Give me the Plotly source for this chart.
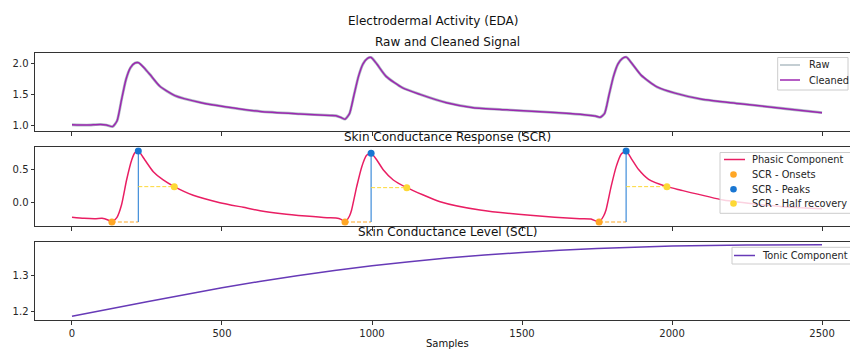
import plotly.graph_objects as go

H = 349.0
W = 850.0

# ---------------- data ----------------
clean_x = [0, 50, 95, 115, 135, 150, 165, 180, 195, 210, 222, 240, 260, 293, 343, 427, 510, 627, 760, 860, 880, 895, 910,
           925, 940, 955, 970, 985, 997, 1016, 1047, 1102, 1160, 1248, 1337, 1450, 1560, 1660, 1720, 1745, 1760,
           1775, 1790, 1805, 1820, 1835, 1848, 1866, 1897, 1950, 2010, 2100, 2227, 2393, 2500]
clean_y = [1.02, 1.015, 1.025, 1.015, 0.99, 1.08, 1.42, 1.75, 1.94, 2.015, 2.02, 1.94, 1.83, 1.64, 1.49, 1.38, 1.31, 1.235, 1.195, 1.17, 1.165, 1.14, 1.11,
           1.2, 1.5, 1.8, 2.0, 2.09, 2.105, 2.0, 1.80, 1.615, 1.51, 1.375, 1.295, 1.26, 1.23, 1.2, 1.175, 1.16, 1.14,
           1.2, 1.5, 1.8, 2.0, 2.09, 2.11, 2.01, 1.82, 1.63, 1.53, 1.43, 1.36, 1.27, 1.215]
raw_x = clean_x
raw_y = clean_y

phasic_x = [0, 40, 80, 100, 120, 133, 150, 165, 182, 199, 210, 221, 243, 271, 304, 341, 404, 493, 571, 627, 700, 780, 850, 880, 897, 910,
            925, 932, 949, 966, 982, 997, 1016, 1038, 1071, 1116, 1227, 1360, 1527, 1693, 1730, 1757,
            1772, 1780, 1797, 1814, 1831, 1847, 1866, 1888, 1922, 1983, 2027, 2171, 2300, 2400, 2500]
phasic_y = [-0.22, -0.235, -0.24, -0.235, -0.26, -0.29, -0.22, -0.035, 0.34, 0.64, 0.75, 0.775, 0.64, 0.464, 0.34, 0.24, 0.11, 0.0, -0.07, -0.12, -0.165, -0.2, -0.225, -0.23, -0.25, -0.29,
            -0.2, -0.11, 0.24, 0.54, 0.71, 0.74, 0.64, 0.49, 0.34, 0.225, 0.015, -0.11, -0.19, -0.24, -0.245, -0.29,
            -0.2, -0.11, 0.24, 0.54, 0.73, 0.775, 0.65, 0.5, 0.35, 0.24, 0.19, 0.04, -0.03, -0.07, -0.09]

onset_x = [133, 910, 1757]
onset_y = [-0.29, -0.29, -0.29]
peak_x = [221, 997, 1847]
peak_y = [0.775, 0.74, 0.775]
half_x = [341, 1116, 1983]
half_y = [0.24, 0.225, 0.24]

tonic_x = [0, 250, 500, 750, 1000, 1250, 1500, 1750, 2000, 2250, 2500]
tonic_y = [1.185, 1.226, 1.266, 1.300, 1.328, 1.350, 1.366, 1.377, 1.384, 1.387, 1.388]

xticks = [0, 500, 1000, 1500, 2000, 2500]

C_RAW, C_CLEAN, C_PHASIC = "#B0BEC5", "#9C27B0", "#E91E63"
C_ON, C_PEAK, C_HALF, C_TONIC = "#FFA726", "#1976D2", "#FDD835", "#673AB7"

# ---------------- geometry helpers ----------------
def py(p):
    return (H - p) / H

def px(p):
    return p / W

FONT = "DejaVu Sans"
TXT = "#262626"
SPINE = "#333333"

fig = go.Figure()

# top panel
fig.add_trace(go.Scatter(x=raw_x, y=raw_y, mode="lines", name="Raw", line=dict(color=C_RAW, width=2.8, shape="spline", smoothing=0.6),
                         xaxis="x", yaxis="y", showlegend=False))
fig.add_trace(go.Scatter(x=clean_x, y=clean_y, mode="lines", name="Cleaned", line=dict(color=C_CLEAN, width=1.5, shape="spline", smoothing=0.6),
                         xaxis="x", yaxis="y", showlegend=False))

# middle panel
fig.add_trace(go.Scatter(x=phasic_x, y=phasic_y, mode="lines", name="Phasic Component",
                         line=dict(color=C_PHASIC, width=1.5, shape="spline", smoothing=0.6),
                         xaxis="x2", yaxis="y2", showlegend=False))

rx, ry, ax_, ay_, hx, hy = [], [], [], [], [], []
for i in range(len(onset_x)):
    rx += [onset_x[i], peak_x[i], None]
    ry += [onset_y[i], onset_y[i], None]
    ax_ += [peak_x[i], peak_x[i], None]
    ay_ += [onset_y[i], peak_y[i], None]
    hx += [peak_x[i], half_x[i], None]
    hy += [half_y[i], half_y[i], None]
fig.add_trace(go.Scatter(x=rx, y=ry, mode="lines", line=dict(color=C_ON, width=1, dash="4px,2px"), showlegend=False,
                         xaxis="x2", yaxis="y2", hoverinfo="skip"))
fig.add_trace(go.Scatter(x=ax_, y=ay_, mode="lines", line=dict(color=C_PEAK, width=1), showlegend=False,
                         xaxis="x2", yaxis="y2", hoverinfo="skip"))
fig.add_trace(go.Scatter(x=hx, y=hy, mode="lines", line=dict(color=C_HALF, width=1, dash="4px,2px"), showlegend=False,
                         xaxis="x2", yaxis="y2", hoverinfo="skip"))

fig.add_trace(go.Scatter(x=onset_x, y=onset_y, mode="markers", name="SCR - Onsets", marker=dict(color=C_ON, size=7),
                         xaxis="x2", yaxis="y2", showlegend=False))
fig.add_trace(go.Scatter(x=peak_x, y=peak_y, mode="markers", name="SCR - Peaks", marker=dict(color=C_PEAK, size=7),
                         xaxis="x2", yaxis="y2", showlegend=False))
fig.add_trace(go.Scatter(x=half_x, y=half_y, mode="markers", name="SCR - Half recovery", marker=dict(color=C_HALF, size=7),
                         xaxis="x2", yaxis="y2", showlegend=False))

# bottom panel
fig.add_trace(go.Scatter(x=tonic_x, y=tonic_y, mode="lines", name="Tonic Component",
                         line=dict(color=C_TONIC, width=1.5, shape="spline", smoothing=0.6),
                         xaxis="x3", yaxis="y3", showlegend=False))

xrange = [-123.3, 2593.3]
xdom = [35 / W, 1.0]

def xax(anchor, labels):
    return dict(domain=xdom, range=xrange, anchor=anchor, tickvals=xticks, showticklabels=labels,
                ticks="outside", ticklen=3.5, tickwidth=0.8, tickcolor=SPINE,
                showline=True, linecolor=SPINE, linewidth=1, mirror=True, showgrid=False, zeroline=False,
                tickfont=dict(size=10, color=TXT, family=FONT))

def yax(anchor, dom, rng, ticks, fmt):
    return dict(domain=dom, range=rng, anchor=anchor, tickvals=ticks, tickformat=fmt,
                ticks="outside", ticklen=3.5, tickwidth=0.8, tickcolor=SPINE,
                showline=True, linecolor=SPINE, linewidth=1, mirror=True, showgrid=False, zeroline=False,
                tickfont=dict(size=10, color=TXT, family=FONT))

fig.update_layout(
    width=850, height=349, margin=dict(l=0, r=0, t=0, b=0),
    paper_bgcolor="white", plot_bgcolor="white",
    font=dict(family=FONT, color=TXT),
    xaxis=xax("y", False),
    xaxis2=xax("y2", False),
    xaxis3=xax("y3", True),
    yaxis=yax("x", [py(131), py(53)], [0.919, 2.177], [1.0, 1.5, 2.0], ".1f"),
    yaxis2=yax("x2", [py(226), py(147.3)], [-0.35, 0.83], [0.0, 0.5], ".1f"),
    yaxis3=yax("x3", [py(320), py(242.3)], [1.1745, 1.3946], [1.2, 1.3], ".1f"),
    showlegend=False,
)

# ---------------- legends (matplotlib-style boxes) ----------------
def draw_legend(left, top, bottom, right, entries):
    fig.add_shape(type="rect", xref="paper", yref="paper", x0=px(left), x1=px(right), y0=py(bottom), y1=py(top),
                  fillcolor="rgba(255,255,255,0.8)", line=dict(color="#cccccc", width=1), layer="above")
    for kind, color, label, yc, h0, h1, tx in entries:
        if kind == "line":
            fig.add_shape(type="line", xref="paper", yref="paper", x0=px(h0), x1=px(h1), y0=py(yc), y1=py(yc),
                          line=dict(color=color, width=1.5), layer="above")
        else:
            c = (h0 + h1) / 2.0
            r = 3.3
            fig.add_shape(type="circle", xref="paper", yref="paper", x0=px(c - r), x1=px(c + r), y0=py(yc + r), y1=py(yc - r),
                          fillcolor=color, line=dict(color=color, width=0), layer="above")
        fig.add_annotation(text=label, x=px(tx), y=py(yc), xref="paper", yref="paper", showarrow=False,
                           xanchor="left", yanchor="middle", font=dict(size=9.8, color=TXT, family=FONT))

draw_legend(777.7, 57.5, 90, 848, [
    ("line", C_RAW, "Raw", 65, 780, 800, 807),
    ("line", C_CLEAN, "Cleaned", 80, 780, 800, 807),
])
draw_legend(720, 152.5, 213.3, 856, [
    ("line", C_PHASIC, "Phasic Component", 159.5, 724, 745, 750),
    ("dot", C_ON, "SCR - Onsets", 174.5, 724, 743, 750),
    ("dot", C_PEAK, "SCR - Peaks", 189.3, 724, 743, 750),
    ("dot", C_HALF, "SCR - Half recovery", 203.5, 724, 743, 750),
])
draw_legend(732, 247.3, 264, 856, [
    ("line", C_TONIC, "Tonic Component", 255.5, 734, 755, 760),
])

ann = [
    ("Electrodermal Activity (EDA)", 433, 21),
    ("Raw and Cleaned Signal", 447, 42),
    ("Skin Conductance Response (SCR)", 447, 136.5),
    ("Skin Conductance Level (SCL)", 447, 231.5),
]
for t, x, y in ann:
    fig.add_annotation(text=t, x=x / W, y=py(y), xref="paper", yref="paper", showarrow=False,
                       xanchor="center", yanchor="middle", font=dict(size=12, color="#111111", family=FONT))
fig.add_annotation(text="Samples", x=447 / W, y=py(343), xref="paper", yref="paper", showarrow=False,
                   xanchor="center", yanchor="middle", font=dict(size=10, color="#111111", family=FONT))

fig.write_html("out.html", config={"displayModeBar": False},
               post_script="document.body.style.margin='0';document.body.style.overflow='hidden';")
